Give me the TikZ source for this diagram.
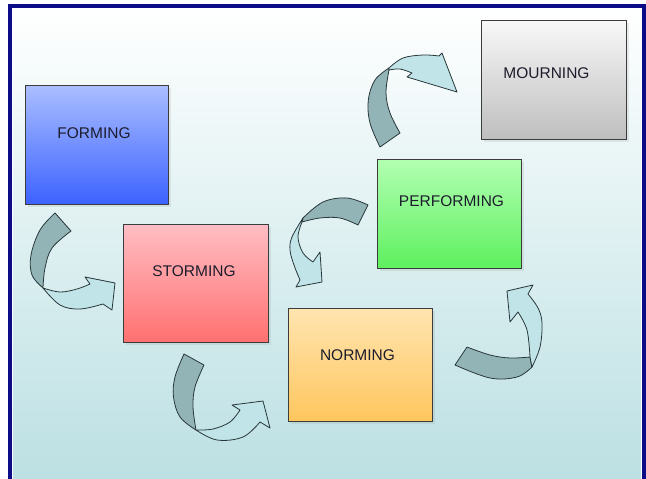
\documentclass[tikz,border=0pt]{standalone}
\usepackage{fontspec}
\setmainfont{Liberation Sans}
\usetikzlibrary{shadows}
\definecolor{navy}{RGB}{12,12,135}
\definecolor{bgbot}{RGB}{188,224,227}
\definecolor{boxline}{RGB}{60,60,60}
\definecolor{txt}{RGB}{28,28,44}
\definecolor{adark}{RGB}{147,180,183}
\definecolor{alight}{RGB}{193,228,232}
\definecolor{aline}{RGB}{40,55,58}
\definecolor{fTop}{RGB}{170,190,255}
\definecolor{fBot}{RGB}{60,98,255}
\definecolor{sTop}{RGB}{255,190,196}
\definecolor{sBot}{RGB}{255,112,112}
\definecolor{nTop}{RGB}{255,229,176}
\definecolor{nBot}{RGB}{255,198,94}
\definecolor{pTop}{RGB}{178,255,178}
\definecolor{pBot}{RGB}{94,240,94}
\definecolor{mTop}{RGB}{248,248,248}
\definecolor{mBot}{RGB}{190,190,190}
\begin{document}
\begin{tikzpicture}[x=1pt,y=-1pt,
  stagebox/.style={draw=boxline, line width=0.8pt, anchor=north west, inner sep=0pt,
    drop shadow={shadow xshift=2.5pt, shadow yshift=-2.5pt, opacity=0.15}},
  lbl/.style={font=\fontsize{15.5}{18}\selectfont, text=txt, inner sep=0pt, anchor=center},
  arrdark/.style={fill=adark, draw=aline, line width=0.8pt, line join=round},
  arrlight/.style={fill=alight, draw=aline, line width=0.8pt, line join=round},
  sm/.style={smooth, tension=0.6}]
\useasboundingbox (0,0) rectangle (646,479);
\fill[white] (0,0) rectangle (646,479);
% background
\shade[top color=white, bottom color=bgbot] (12,8) rectangle (642,479);
% frame
\draw[navy, line width=3.8pt] (10,490) -- (10,6) -- (644,6) -- (644,490);
\draw[white, line width=1pt] (12.5,490) -- (12.5,8.5) -- (641.5,8.5) -- (641.5,490);

% boxes
\node[stagebox, top color=fTop, bottom color=fBot, minimum width=143pt, minimum height=119pt] (forming) at (25,85) {};
\node[stagebox, top color=sTop, bottom color=sBot, minimum width=145pt, minimum height=118pt] (storming) at (123,224) {};
\node[stagebox, top color=nTop, bottom color=nBot, minimum width=144pt, minimum height=113pt] (norming) at (288,308) {};
\node[stagebox, top color=pTop, bottom color=pBot, minimum width=144pt, minimum height=109pt] (performing) at (377,159) {};
\node[stagebox, top color=mTop, bottom color=mBot, minimum width=145pt, minimum height=119pt] (mourning) at (481,20) {};

% labels
\node[lbl] (tforming) at (94,133) {FORMING};
\node[lbl] (tstorming) at (194,271) {STORMING};
\node[lbl] (tnorming) at (357.5,355) {NORMING};
\node[lbl] (tperforming) at (451.5,201) {PERFORMING};
\node[lbl] (tmourning) at (546.5,73) {MOURNING};

% Arrow A: forming -> storming
\filldraw[arrdark] plot[sm] coordinates {(55,213) (40,230) (31,255) (32,275) (43,288)}
  -- plot[sm] coordinates {(43,288) (45,268) (52,248) (71,231)} -- cycle;
\filldraw[arrlight] plot[sm] coordinates {(43,288) (60,292) (77,289) (90,284)}
  -- (85,277) -- (115,283) -- (112,310)
  -- plot[sm] coordinates {(103,304) (80,309) (60,305) (43,288)} -- cycle;

% Arrow B: storming -> norming
\filldraw[arrdark] plot[sm] coordinates {(184,354) (175,377) (173.5,397) (180,417) (196,430)}
  -- plot[sm] coordinates {(196,430) (193,407) (195,387) (204,365)} -- cycle;
\filldraw[arrlight] plot[sm] coordinates {(196,430) (213,429) (230,422) (240,410)}
  -- (232,405) -- (263,401) -- (270,428)
  -- plot[sm] coordinates {(260,422) (243,437) (217,440) (196,430)} -- cycle;

% Arrow C: norming -> performing
\filldraw[arrdark] plot[sm] coordinates {(467,347) (490,355) (510,358) (530,357)}
  -- plot[sm] coordinates {(532,367) (517,377) (490,378) (455,365)} -- cycle;
\filldraw[arrlight] plot[sm] coordinates {(530,357) (527,330) (518,312)}
  -- (510,322) -- (507,291) -- (533,285)
  -- plot[sm] coordinates {(528,294) (538,308) (542,323) (540,347) (532,367)} -- cycle;

% Arrow D: performing -> storming
\filldraw[arrdark] plot[sm] coordinates {(368,205) (347,198) (323,202) (303,218)}
  -- plot[sm] coordinates {(302,222) (320,218) (340,218) (358,225)} -- cycle;
\filldraw[arrlight] plot[sm] coordinates {(303,218) (292,237) (290,250) (294,265) (300,280)}
  -- (296,287) -- (322,282) -- (320,252)
  -- plot[sm] coordinates {(313,262) (303,253) (298,237) (302,222)} -- cycle;

% Arrow E: performing -> mourning
\filldraw[arrdark] plot[sm] coordinates {(380,147) (370,123) (368.3,100) (375,80) (389,68)}
  -- plot[sm] coordinates {(389,70) (386,93) (390,113) (400,133)} -- cycle;
\filldraw[arrlight] plot[sm] coordinates {(389,68) (403,58) (423,55) (439,56)}
  -- (442,53) -- (457,92) -- (407,77)
  -- plot[sm] coordinates {(412,73) (400,69) (389,70)} -- cycle;
\end{tikzpicture}
\end{document}
